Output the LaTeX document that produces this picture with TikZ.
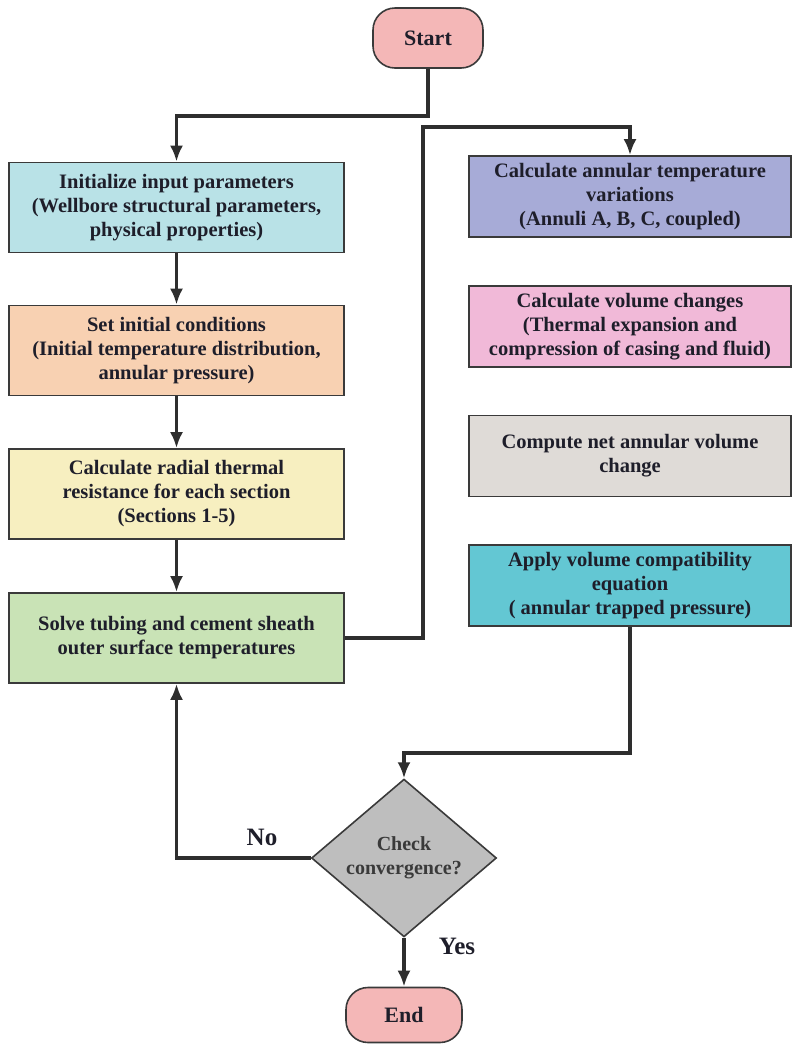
\documentclass[tikz,border=0pt]{standalone}
\usepackage{fontspec}
\setmainfont{Liberation Serif}
\usetikzlibrary{arrows.meta,shapes.geometric}
\definecolor{termpink}{HTML}{F4B7B7}
\definecolor{initcyan}{HTML}{B9E2E7}
\definecolor{condpeach}{HTML}{F8D1B2}
\definecolor{radyellow}{HTML}{F7EFC0}
\definecolor{solvegreen}{HTML}{C9E3B6}
\definecolor{tempblue}{HTML}{A7ABD7}
\definecolor{volpink}{HTML}{F1B9D8}
\definecolor{netgray}{HTML}{DFDBD7}
\definecolor{compteal}{HTML}{63C7D3}
\definecolor{checkgray}{HTML}{BEBEBE}
\definecolor{linegray}{HTML}{2E2E2E}
\definecolor{boxgray}{HTML}{3A3A3A}
\definecolor{textdark}{HTML}{1E1E2A}
\tikzset{
  >={Latex[length=16pt,width=13pt]},
  x=1pt,y=1pt,
}
\tikzstyle{flow}=[line width=3.4pt,draw=linegray,->]
\tikzstyle{stepbox}=[draw=boxgray,line width=1.6pt,align=center,inner sep=0pt,
  text=textdark,font=\bfseries\fontsize{20.5}{24}\selectfont]
\tikzstyle{leftbox}=[stepbox,minimum width=335pt,minimum height=90pt]
\tikzstyle{rightbox}=[stepbox,minimum width=322pt,minimum height=81pt]
\tikzstyle{terminal}=[stepbox,fill=termpink,rounded corners=22pt,
  font=\bfseries\fontsize{22}{26}\selectfont]
\tikzstyle{answer}=[text=textdark,font=\bfseries\fontsize{25}{28}\selectfont]

\begin{document}
\begin{tikzpicture}
    \useasboundingbox (0,0) rectangle (793,-1045);

    \node[terminal,minimum width=110pt,minimum height=60pt] (start) at (428,-38) {Start};

    \node[leftbox,fill=initcyan] (init) at (176.5,-207.5)
      {Initialize input parameters\\(Wellbore structural parameters,\\physical properties)};
    \node[leftbox,fill=condpeach] (cond) at (176.5,-350.5)
      {Set initial conditions\\(Initial temperature distribution,\\annular pressure)};
    \node[leftbox,fill=radyellow] (resist) at (176.5,-494)
      {Calculate radial thermal\\resistance for each section\\(Sections 1-5)};
    \node[leftbox,fill=solvegreen] (solve) at (176.5,-638)
      {Solve tubing and cement sheath\\outer surface temperatures};

    \node[rightbox,fill=tempblue] (temp) at (630,-196.5)
      {Calculate annular temperature\\variations\\(Annuli A, B, C, coupled)};
    \node[rightbox,fill=volpink] (vol) at (630,-326.5)
      {Calculate volume changes\\(Thermal expansion and\\compression of casing and fluid)};
    \node[rightbox,fill=netgray] (net) at (630,-456)
      {Compute net annular volume\\change};
    \node[rightbox,fill=compteal] (compat) at (630,-585.5)
      {Apply volume compatibility\\equation\\( annular trapped pressure)};

    \node[stepbox,shape=diamond,fill=checkgray,minimum width=185pt,minimum height=141pt,
      text=boxgray,font=\bfseries\fontsize{20}{24}\selectfont] (check) at (404,-858)
      {Check\\convergence?};

    \node[terminal,minimum width=116pt,minimum height=55pt] (end) at (404,-1015) {End};

    \coordinate (rise) at (423,-127);

    \draw[flow] (start.south) -- ++(0,-47) -| (init.north);
    \draw[flow] (init) -- (cond);
    \draw[flow] (cond) -- (resist);
    \draw[flow] (resist) -- (solve);
    \draw[flow] (solve.east) -| (rise) -| (temp.north);
    \draw[flow] (compat.south) -- ++(0,-126) -| (check.north);
    \draw[flow] (check.west) -| (solve.south);
    \draw[flow] (check.south) -- (end.north);

    \node[answer] (no) at (262,-837) {No};
    \node[answer] (yes) at (457,-946) {Yes};
\end{tikzpicture}
\end{document}
